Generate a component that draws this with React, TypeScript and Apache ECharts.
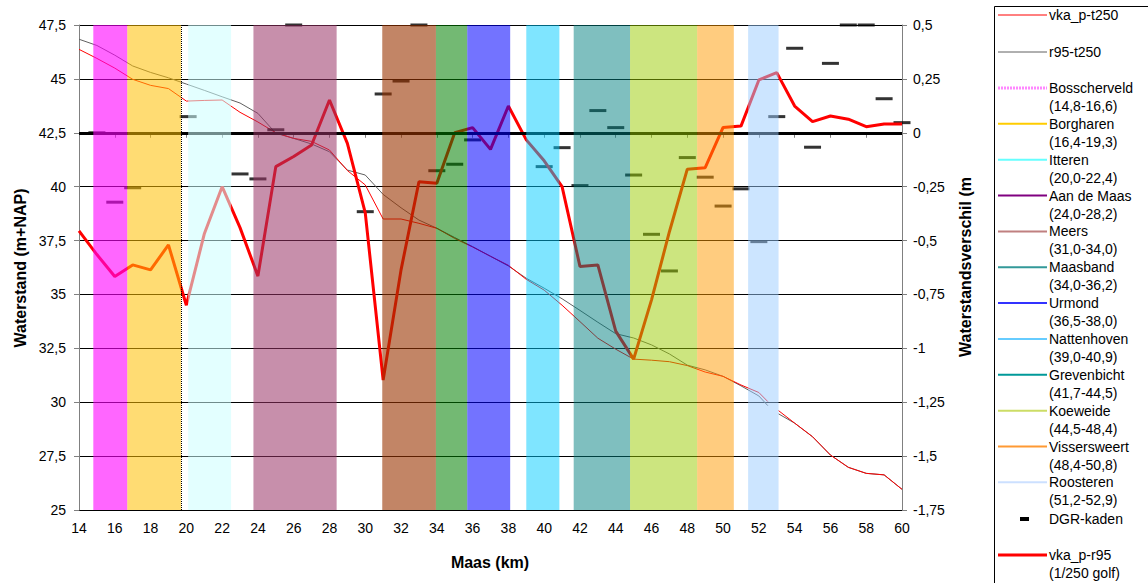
import React, { useEffect, useRef } from "react";
import * as echarts from "echarts";

// ---- data ----
const kmR95 = [14, 15, 16, 17, 18, 19, 20, 21, 22, 23, 24, 25, 26, 27, 28, 29, 30, 31, 32, 33, 34, 35, 36, 37, 38, 39, 40, 41, 42, 43, 44, 45, 46, 47, 48, 49, 50, 51, 52, 53, 54, 55, 56, 57, 58, 59, 60];
const diffR95 = [-0.455, -0.565, -0.667, -0.613, -0.636, -0.52, -0.8, -0.47, -0.25, -0.44, -0.665, -0.157, -0.11, -0.057, 0.152, -0.049, -0.372, -1.147, -0.636, -0.227, -0.234, 0.0, 0.024, -0.077, 0.124, -0.033, -0.13, -0.25, -0.62, -0.613, -0.92, -1.05, -0.775, -0.459, -0.169, -0.162, 0.025, 0.031, 0.245, 0.279, 0.124, 0.052, 0.078, 0.063, 0.028, 0.041, 0.041];

const kmThin = [14, 15, 16, 17, 18, 19, 20, 21, 22, 23, 24, 25, 26, 27, 28, 29, 30, 31, 32, 33, 34, 35, 36, 37, 38, 39, 40, 41, 42, 43, 44, 45, 46, 47, 48, 49, 50, 51, 52, 52.5, 52.8, 53.1, 54, 55, 56, 57, 58, 59, 60];
const vkaT250 = [46.37, 45.95, 45.5, 44.98, 44.7, 44.55, 43.97, 44.0, 44.02, 43.45, 43.0, 42.5, 42.24, 42.1, 41.7, 40.75, 40.08, 38.5, 38.5, 38.3, 38.07, 37.6, 37.2, 36.77, 36.35, 35.7, 35.2, 34.5, 33.74, 32.97, 32.46, 32.0, 31.95, 31.88, 31.7, 31.4, 31.2, 30.8, 30.45, 30.03, null, 29.61, 29.03, 28.4, 27.55, 26.98, 26.7, 26.63, 25.96];
const r95T250 = [46.84, 46.55, 46.1, 45.6, 45.3, 45.05, 44.76, 44.47, 44.17, 43.88, 43.4, 42.48, 42.24, 41.98, 41.62, 40.77, 40.54, 39.64, 39.02, 38.45, 38.07, 37.64, 37.22, 36.77, 36.32, 35.75, 35.29, 34.8, 34.26, 33.71, 33.18, 32.98, 32.66, 32.24, 31.72, 31.5, 31.2, 30.76, 30.29, 29.84, null, 29.46, 29.03, 28.4, 27.55, 26.98, 26.7, 26.63, 25.96];

const dgrKm = [15, 16, 17, 20.1, 23, 24, 25, 26, 30, 31, 32, 33, 34, 35, 36, 40, 41, 42, 43, 44, 45, 46, 47, 48, 49, 50, 51, 52, 53, 54, 55, 56, 57, 58, 59, 60];
const dgrDiff = [0.0, -0.322, -0.255, 0.075, -0.191, -0.214, 0.014, 0.5, -0.366, 0.18, 0.24, 0.5, -0.176, -0.146, -0.033, -0.157, -0.069, -0.245, 0.103, 0.024, -0.196, -0.471, -0.641, -0.115, -0.206, -0.34, -0.26, -0.505, 0.075, 0.392, -0.067, 0.322, 0.5, 0.5, 0.158, 0.047];

const bandNames = ["Bosscherveld", "Borgharen", "Itteren", "Aan de Maas", "Meers", "Maasband", "Urmond", "Nattenhoven", "Grevenbicht", "Koeweide", "Vissersweert", "Roosteren"];
const bandLabels = ["(14,8-16,6)", "(16,4-19,3)", "(20,0-22,4)", "(24,0-28,2)", "(31,0-34,0)", "(34,0-36,2)", "(36,5-38,0)", "(39,0-40,9)", "(41,7-44,5)", "(44,5-48,4)", "(48,4-50,8)", "(51,2-52,9)"];
const bandStart = [14.8, 16.7, 20.1, 23.75, 30.95, 33.95, 35.7, 39.0, 41.65, 44.8, 48.55, 51.4];
const bandEnd = [16.7, 19.7, 22.5, 28.4, 33.95, 35.7, 38.1, 40.85, 44.8, 48.55, 50.6, 53.1];

// ---- styles ----
const bandColors = ["#ff00ff", "#ffc000", "#ccffff", "#993366", "#993300", "#008000", "#0000ff", "#00ccff", "#008080", "#99cc00", "#ff9900", "#99ccff"];
const bandOpacity = [0.6, 0.55, 0.55, 0.55, 0.6, 0.55, 0.55, 0.5, 0.5, 0.5, 0.5, 0.5];
const legendColors = ["#ff88ff", "#ffcc00", "#66ffff", "#800080", "#c08080", "#339999", "#3333ff", "#66ccff", "#009999", "#ccdd66", "#ff9933", "#cce0ff"];

const FONT = "Liberation Sans, Arial, sans-serif";
const fmt = (v: number) => String(v).replace(".", ",");

export default function App() {
  const ref = useRef<HTMLDivElement>(null);
  useEffect(() => {
    const chart = echarts.init(ref.current!, null, { renderer: "svg" });

    const legendEls: any[] = [];
    legendEls.push({
      type: "rect",
      shape: { x: 994.5, y: 6.5, width: 200, height: 620 },
      style: { fill: "#fff", stroke: "#000", lineWidth: 1 },
      z: 100,
    });
    const addLine = (y: number, color: string, w: number, dash?: number[]) => {
      legendEls.push({
        type: "line",
        shape: { x1: 998, y1: y, x2: 1047, y2: y },
        style: { stroke: color, lineWidth: w, lineDash: dash },
        z: 101,
      });
    };
    const addText = (y: number, t: string) => {
      legendEls.push({
        type: "text",
        x: 1049,
        y,
        style: { text: t, font: `14px ${FONT}`, fill: "#000", verticalAlign: "middle", align: "left" },
        z: 101,
      });
    };
    addLine(15, "#ff0000", 1);
    addText(15, "vka_p-t250");
    addLine(52, "#606060", 1);
    addText(52, "r95-t250");
    const bandY0 = 88;
    const step = 35.85;
    bandNames.forEach((n, i) => {
      const y = bandY0 + i * step;
      addLine(y, legendColors[i], i === 0 ? 3 : 2, i === 0 ? [2, 1] : undefined);
      addText(y, n);
      addText(y + 18, bandLabels[i]);
    });
    legendEls.push({
      type: "rect",
      shape: { x: 1020, y: 517, width: 9, height: 4 },
      style: { fill: "#000" },
      z: 101,
    });
    addText(519, "DGR-kaden");
    addLine(555, "#ff0000", 3);
    addText(555, "vka_p-r95");
    addText(573, "(1/250 golf)");

    const titles: any[] = [
      {
        type: "text",
        x: 20,
        y: 268,
        rotation: Math.PI / 2,
        style: { text: "Waterstand (m+NAP)", font: `bold 16px ${FONT}`, fill: "#000", align: "center", verticalAlign: "middle" },
      },
      {
        type: "text",
        x: 965,
        y: 267,
        rotation: Math.PI / 2,
        style: { text: "Waterstandsverschil (m", font: `bold 16px ${FONT}`, fill: "#000", align: "center", verticalAlign: "middle" },
      },
      {
        type: "text",
        x: 490,
        y: 562,
        style: { text: "Maas (km)", font: `bold 16px ${FONT}`, fill: "#000", align: "center", verticalAlign: "middle" },
      },
    ];

    const option: any = {
      animation: false,
      backgroundColor: "#fff",
      grid: { left: 79, right: 246, top: 25, bottom: 73, containLabel: false },
      xAxis: {
        type: "value",
        min: 14,
        max: 60,
        interval: 2,
        axisLine: { show: true, lineStyle: { color: "#808080", width: 1 } },
        axisTick: { show: true, length: 5, lineStyle: { color: "#808080" } },
        axisLabel: { color: "#000", fontSize: 14, fontFamily: FONT, margin: 11 },
        splitLine: { show: false },
      },
      yAxis: [
        {
          type: "value",
          min: 25,
          max: 47.5,
          interval: 2.5,
          axisLine: { show: true, lineStyle: { color: "#808080", width: 1 } },
          axisTick: { show: true, length: 5, lineStyle: { color: "#808080" } },
          axisLabel: { color: "#000", fontSize: 14, fontFamily: FONT, margin: 13, formatter: fmt },
          splitLine: { show: true, lineStyle: { color: "#000", width: 1 } },
        },
        {
          type: "value",
          position: "right",
          min: -1.75,
          max: 0.5,
          interval: 0.25,
          axisLine: { show: true, lineStyle: { color: "#808080", width: 1 } },
          axisTick: { show: true, length: 5, lineStyle: { color: "#808080" } },
          axisLabel: { color: "#000", fontSize: 14, fontFamily: FONT, margin: 11, formatter: fmt },
          splitLine: { show: false },
        },
      ],
      graphic: [...titles, ...legendEls],
      series: [
        {
          name: "r95-t250",
          type: "line",
          yAxisIndex: 0,
          z: 2,
          symbol: "none",
          connectNulls: false,
          data: kmThin.map((k, i) => [k, r95T250[i] === null ? "-" : r95T250[i]]),
          lineStyle: { color: "#606060", width: 1 },
          markLine: {
            silent: true,
            symbol: ["none", "none"],
            label: { show: false },
            data: [
              { yAxis: 42.5, lineStyle: { color: "#000", width: 3, type: "solid" } },
              { xAxis: 19.7, lineStyle: { color: "#000", width: 1, type: "dotted" } },
            ],
          },
        },
        {
          name: "vka_p-t250",
          type: "line",
          yAxisIndex: 0,
          z: 2,
          symbol: "none",
          connectNulls: false,
          data: kmThin.map((k, i) => [k, vkaT250[i] === null ? "-" : vkaT250[i]]),
          lineStyle: { color: "#ff0000", width: 1 },
        },
        {
          name: "DGR-kaden",
          type: "scatter",
          yAxisIndex: 1,
          z: 3,
          symbol: "rect",
          symbolSize: [17, 3],
          itemStyle: { color: "#000" },
          data: dgrKm.map((k, i) => [k, dgrDiff[i]]),
        },
        {
          name: "vka_p-r95",
          type: "line",
          yAxisIndex: 1,
          z: 4,
          symbol: "none",
          data: kmR95.map((k, i) => [k, diffR95[i]]),
          lineStyle: { color: "#ff0000", width: 3 },
        },
        {
          name: "bands",
          type: "custom",
          z: 6,
          silent: true,
          xAxisIndex: 0,
          yAxisIndex: 0,
          encode: { x: [0, 1] },
          data: bandStart.map((s, i) => [s, bandEnd[i], i]),
          renderItem: (params: any, api: any) => {
            const i = api.value(2);
            const p1 = api.coord([api.value(0), 47.5]);
            const p2 = api.coord([api.value(1), 25]);
            return {
              type: "rect",
              shape: { x: p1[0], y: p1[1], width: p2[0] - p1[0], height: p2[1] - p1[1] },
              style: { fill: bandColors[i], opacity: bandOpacity[i] },
            };
          },
        },
      ],
    };
    chart.setOption(option);
    return () => chart.dispose();
  }, []);
  return <div ref={ref} style={{ position: "fixed", left: 0, top: 0, width: 1148, height: 583 }} />;
}
